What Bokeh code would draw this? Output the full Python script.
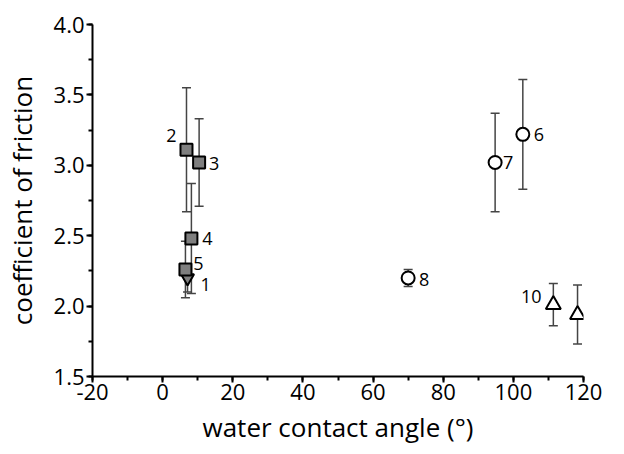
from bokeh.plotting import figure
from bokeh.models import ColumnDataSource, Whisker, TeeHead, FixedTicker, Range1d, CustomJSTickFormatter
from bokeh.core.properties import value
from bokeh.embed import file_html
from bokeh.resources import INLINE

# data
labels = ["1", "2", "3", "4", "5", "6", "7", "8", "9", "10"]
angle = [7.1, 6.8, 10.4, 8.2, 6.5, 102.7, 94.8, 70.0, 118.3, 111.4]
cof = [2.20, 3.11, 3.02, 2.48, 2.26, 3.22, 3.02, 2.20, 1.94, 2.01]
err = [0.10, 0.44, 0.31, 0.39, 0.20, 0.39, 0.35, 0.06, 0.21, 0.15]
marker = ["inverted_triangle", "square", "square", "square", "square",
          "circle", "circle", "circle", "triangle", "triangle"]
fill = ["#7f7f7f"] * 5 + ["white"] * 5
x_ticks = [-20, 0, 20, 40, 60, 80, 100, 120]
y_ticks = [1.5, 2.0, 2.5, 3.0, 3.5, 4.0]
# label offsets in screen pixels (style)
lx = [18, -15, 15, 16, 13, 16, 13, 16, 12, -22]
ly = [7, -14, 1, 0, -6, 0, 0, 2, -16, -8]

FONT = "Open Sans"

src = ColumnDataSource(dict(
    x=angle, y=cof,
    lo=[c - e for c, e in zip(cof, err)],
    hi=[c + e for c, e in zip(cof, err)],
    m=marker, f=fill, t=labels, lx=lx, ly=ly,
    sz=[13, 12, 12, 12, 12, 13, 13, 13, 15, 15],
))

p = figure(width=624, height=454, output_backend="svg", toolbar_location=None,
           x_range=Range1d(-20, 120), y_range=Range1d(1.5, 4.0),
           min_border_left=91, min_border_right=41, min_border_top=24, min_border_bottom=78)
p.outline_line_color = None
p.xgrid.visible = False
p.ygrid.visible = False
p.background_fill_color = "white"
p.border_fill_color = "white"

w = Whisker(source=src, base="x", lower="lo", upper="hi", dimension="height",
            line_color="#444444", line_width=1.5,
            lower_head=TeeHead(size=9, line_color="#444444", line_width=1.5),
            upper_head=TeeHead(size=9, line_color="#444444", line_width=1.5))
p.add_layout(w)

p.scatter(x="x", y="y", marker="m", size="sz", fill_color="f", line_color="black",
          line_width=2, source=src)

p.text(x="x", y="y", text="t", x_offset="lx", y_offset="ly", source=src,
       text_align="center", text_baseline="middle", text_font=value(FONT),
       text_font_size="18px", text_color="black")

for ax in (p.xaxis[0], p.yaxis[0]):
    ax.axis_line_width = 2
    ax.axis_line_color = "black"
    ax.major_tick_line_width = 2
    ax.minor_tick_line_width = 2
    ax.major_tick_out = 6
    ax.major_tick_in = 0
    ax.minor_tick_out = 4
    ax.minor_tick_in = 0
    ax.major_label_text_font = FONT
    ax.major_label_text_font_size = "22px"
    ax.major_label_text_color = "black"
    ax.axis_label_text_font = FONT
    ax.axis_label_text_font_size = "26px"
    ax.axis_label_text_font_style = "normal"
    ax.axis_label_text_color = "black"

p.xaxis.ticker = FixedTicker(ticks=x_ticks, minor_ticks=list(range(-20, 121, 10)))
p.yaxis.ticker = FixedTicker(ticks=y_ticks, minor_ticks=[1.5 + 0.25 * i for i in range(11)])
p.yaxis.formatter = CustomJSTickFormatter(code="return tick.toFixed(1);")
p.xaxis.formatter = CustomJSTickFormatter(code="return tick.toFixed(0);")
p.xaxis.axis_label = "water contact angle (°)"
p.yaxis.axis_label = "coefficient of friction"
p.xaxis.major_label_standoff = 1
p.yaxis.major_label_standoff = 2
p.xaxis.axis_label_standoff = 6
p.yaxis.axis_label_standoff = 11

open("out.html", "w").write(file_html(p, INLINE))
